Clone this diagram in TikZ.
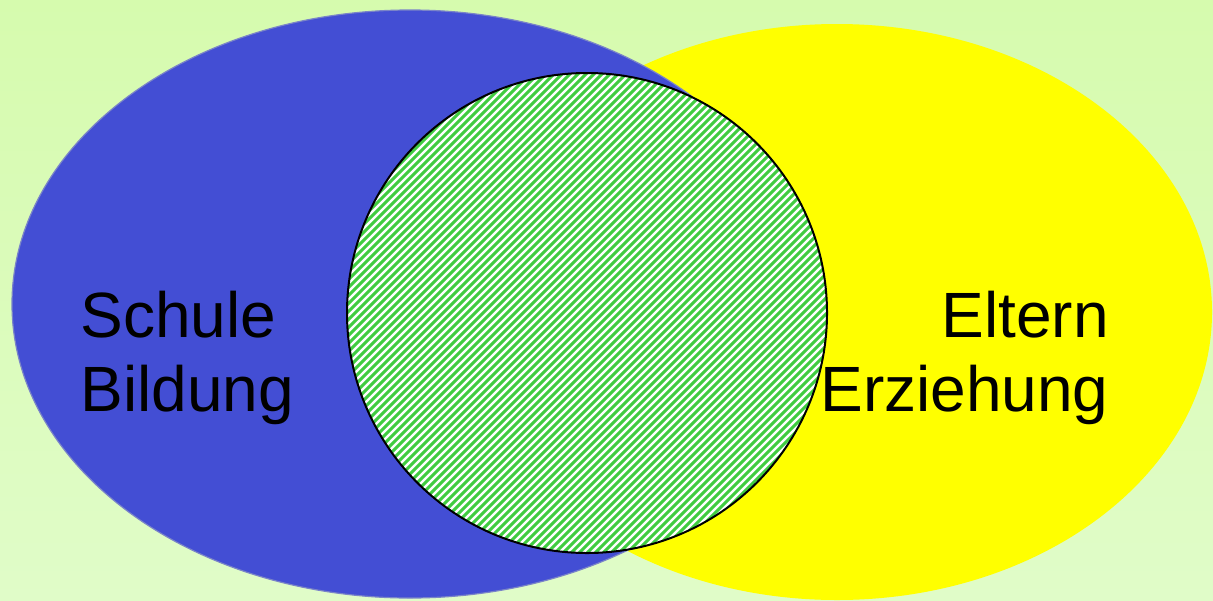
\documentclass[tikz,border=0pt]{standalone}
\usepackage{fontspec}
\setmainfont{Liberation Sans}
\definecolor{bgtop}{HTML}{D6FBAE}
\definecolor{bgbot}{HTML}{E0FCC8}
\definecolor{blueset}{HTML}{434ED4}
\definecolor{blueedge}{HTML}{7A84C8}
\definecolor{yellowset}{HTML}{FFFF00}
\definecolor{hatchgreen}{HTML}{40CC40}
\tikzset{
  lbl/.style={font=\fontsize{32pt}{36pt}\selectfont, text=black, inner sep=0pt},
  hatchline/.style={draw=hatchgreen, line width=1.45pt},
}
\begin{document}
\begin{tikzpicture}[x=0.5pt,y=-0.5pt]
\useasboundingbox (0,0) rectangle (1213,600);
\shade[top color=bgtop, bottom color=bgbot] (0,0) rectangle (1213,600);
% Eltern set
\fill[yellowset] (837,312) ellipse [x radius=375, y radius=288];
% Schule set
\fill[blueset, draw=blueedge, line width=0.6pt] (410,304) ellipse [x radius=398, y radius=294];
% intersection
\fill[white] (587,313) circle [radius=240];
\begin{scope}
  \clip (587,313) circle [radius=240];
  \foreach \i in {-140,-132,...,840} {
    \draw[hatchline] (\i,560) -- ++(500,-500);
  }
\end{scope}
\draw[black, line width=1pt] (587,313) circle [radius=240];
% labels
\node[lbl, anchor=base west] (s1) at (80,337) {Schule};
\node[lbl, anchor=base west] (s2) at (80,411) {Bildung};
\node[lbl, anchor=base east] (e1) at (1109,337) {Eltern};
\node[lbl, anchor=base east] (e2) at (1109,411) {Erziehung};
\end{tikzpicture}
\end{document}
